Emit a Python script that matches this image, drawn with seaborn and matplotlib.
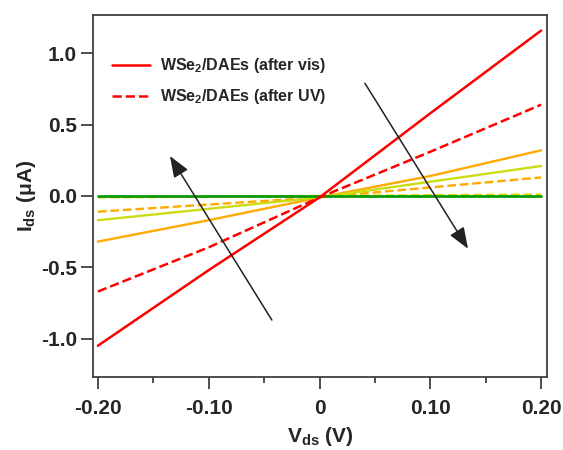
# I-V curves of WSe2/DAEs under light switching

import numpy as np
import pandas as pd
import matplotlib
matplotlib.use('Agg')
import matplotlib.pyplot as plt
import seaborn as sns

sns.set_style('white')
plt.rcParams['font.family'] = ['Liberation Sans', 'DejaVu Sans']
plt.rcParams['font.weight'] = 'bold'
plt.rcParams['mathtext.fontset'] = 'custom'
plt.rcParams['mathtext.rm'] = 'Liberation Sans:bold'
plt.rcParams['mathtext.bf'] = 'Liberation Sans:bold'
plt.rcParams['mathtext.it'] = 'Liberation Sans:bold'

# Data, V in volts, I in uA
vds = [-0.20, -0.10, 0.0, 0.10, 0.20]
i_vis = [-1.05, -0.52, -0.01, 0.58, 1.16]
i_uv = [-0.67, -0.36, -0.01, 0.31, 0.64]
i_orange = [-0.32, -0.17, -0.01, 0.14, 0.32]
i_orange_dash = [-0.11, -0.06, -0.01, 0.06, 0.13]
i_yellow = [-0.17, -0.09, -0.01, 0.10, 0.21]
i_yellow_dash = [-0.01, -0.005, 0.0, 0.005, 0.01]
i_green = [0.0, 0.0, 0.0, 0.0, 0.0]

series = [
    ('orange dashed', i_orange_dash, '#FFAA00', '--', 1.7, None),
    ('yellow dashed', i_yellow_dash, '#D4DC00', '--', 1.7, None),
    ('orange', i_orange, '#FFAA00', '-', 1.7, None),
    ('yellow', i_yellow, '#CCDC10', '-', 1.7, None),
    ('green', i_green, '#0A9A0A', '-', 2.0, None),
    ('uv', i_uv, '#FF0000', '--', 1.8, r'WSe$_2$/DAEs (after UV)'),
    ('vis', i_vis, '#FF0000', '-', 1.8, r'WSe$_2$/DAEs (after vis)'),
]

fig = plt.figure(figsize=(5.63, 4.5), dpi=100)
ax = fig.add_axes([0.165, 0.162, 0.807, 0.805])

for name, vals, col, ls, w, lab in series:
    df = pd.DataFrame({'V': vds, 'I': vals})
    sns.lineplot(data=df, x='V', y='I', color=col, linestyle=ls, lw=w,
                 label=lab, ax=ax, legend=False)

# arrows
arrow = dict(arrowstyle='-|>,head_length=1.3,head_width=0.5',
             color='#222222', lw=1.1, shrinkA=0, shrinkB=0)
ax.annotate('', xy=(-0.135, 0.28), xytext=(-0.043, -0.87), arrowprops=arrow)
ax.annotate('', xy=(0.134, -0.37), xytext=(0.041, 0.79), arrowprops=arrow)

ax.set_xlim(-0.2045, 0.2055)
ax.set_ylim(-1.27, 1.27)
ax.set_xticks([-0.2, -0.1, 0, 0.1, 0.2])
ax.set_xticklabels(['-0.20', '-0.10', '0', '0.10', '0.20'])
ax.set_xticks([-0.15, -0.05, 0.05, 0.15], minor=True)
ax.set_yticks([-1.0, -0.5, 0.0, 0.5, 1.0])
ax.set_yticklabels(['-1.0', '-0.5', '0.0', '0.5', '1.0'])
ax.tick_params(axis='both', which='major', direction='out', length=8.5, width=1.3,
               color='#404040', labelsize=15, bottom=True, left=True, pad=3)
ax.tick_params(axis='x', which='major', pad=7)
ax.tick_params(axis='x', which='minor', direction='out', length=4.5, width=1.3,
               color='#404040', bottom=True)
for lbl in ax.get_xticklabels() + ax.get_yticklabels():
    lbl.set_fontweight('bold')
for s in ax.spines.values():
    s.set_color('#404040')
    s.set_linewidth(1.3)

ax.set_xlabel(r'V$_{ds}$ (V)', fontsize=15, fontweight='bold', labelpad=5)
ax.set_ylabel(r'I$_{ds}$ (μA)', fontsize=15, fontweight='bold', labelpad=2)

h, l = ax.get_legend_handles_labels()
ax.legend(h[::-1], l[::-1], loc='upper left', frameon=False,
          prop={'size': 11.5, 'weight': 'bold'}, handlelength=2.4,
          handletextpad=0.6, bbox_to_anchor=(0.01, 0.925), labelspacing=0.75)

fig.savefig('out.png', dpi=100)
